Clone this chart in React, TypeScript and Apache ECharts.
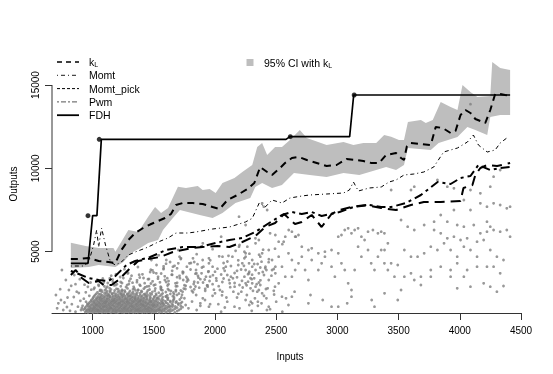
import React, { useEffect, useRef } from "react";
import * as echarts from "echarts";

const xTicks = [1000, 1500, 2000, 2500, 3000, 3500, 4000, 4500];
const yTicks = [5000, 10000, 15000];

const legendNames = ["kL", "Momt", "Momt_pick", "Pwm", "FDH"];

const fdhLine = [[822,4300],[962,4300],[1000,7160],[1035,7160],[1071,11740],[2580,11740],[2612,11900],[3100,11900],[3133,14400],[4411,14400]];
const fdhPoints = [[962,7160],[1054,11740],[2615,11900],[3137,14400]];

const kL = [[822,4560],[887,4560],[968,4620],[1049,4440],[1130,4380],[1186,4320],[1235,5100],[1292,5700],[1348,6120],[1413,6420],[1478,6660],[1535,6840],[1591,7020],[1640,7260],[1681,7800],[1737,7920],[1818,7920],[1899,7860],[1980,7680],[2037,7560],[2102,8100],[2183,8400],[2264,8760],[2321,9120],[2369,10080],[2426,9780],[2466,9600],[2531,10020],[2572,10320],[2628,10620],[2685,10680],[2750,10500],[2831,10320],[2912,10140],[2993,10200],[3074,10560],[3155,10500],[3212,10440],[3277,10320],[3341,10320],[3398,10800],[3479,10920],[3520,10620],[3544,10500],[3568,11340],[3601,11520],[3682,11460],[3763,11400],[3803,12480],[3860,12420],[3925,12120],[3965,12240],[4006,13200],[4046,13500],[4087,13320],[4127,12960],[4208,12720],[4249,13500],[4289,14460],[4330,14460],[4370,14400],[4411,14340]];

const ciUpper = [[822,5540],[943,5340],[1049,5220],[1170,5220],[1186,5000],[1292,6300],[1373,6180],[1454,7100],[1510,7680],[1559,7320],[1616,7620],[1697,8900],[1762,8820],[1859,8940],[1899,8700],[1956,8760],[2005,8520],[2061,9120],[2159,9420],[2223,9780],[2304,10200],[2345,11280],[2385,11520],[2426,10800],[2491,11280],[2547,11280],[2612,11700],[2693,12300],[2750,11820],[2912,11400],[3050,11580],[3131,11400],[3212,11520],[3317,11520],[3382,12000],[3439,11900],[3503,11700],[3544,11700],[3576,12780],[3682,12900],[3722,12720],[3779,12900],[3844,13980],[3925,13680],[3981,13500],[4022,15000],[4087,14580],[4144,14280],[4249,14340],[4265,16380],[4330,16020],[4411,15900]];

const ciLower = [[822,4020],[968,4080],[1049,4200],[1186,4080],[1251,4380],[1316,4920],[1389,5220],[1454,5520],[1535,5700],[1575,6300],[1656,7020],[1713,7500],[1875,7200],[1980,7020],[2061,7320],[2167,7920],[2288,8220],[2329,8880],[2385,9120],[2466,8820],[2547,9000],[2645,9720],[2774,9600],[2912,9480],[3050,9720],[3179,9600],[3317,9900],[3398,10080],[3479,9900],[3544,10200],[3576,11220],[3763,11100],[3827,11520],[3981,11880],[4062,12480],[4127,12300],[4224,12000],[4249,13080],[4330,13200],[4411,13200]];

const momt = [[822,4140],[927,4140],[968,4380],[1008,5400],[1033,6300],[1049,5280],[1073,6420],[1105,5400],[1146,4380],[1186,4200],[1235,4380],[1292,4800],[1348,4980],[1413,5160],[1454,5280],[1535,5580],[1616,5820],[1681,6120],[1778,6120],[1843,6180],[1980,6360],[2118,6480],[2248,6780],[2304,7000],[2361,7920],[2410,7680],[2466,8100],[2547,7920],[2612,8220],[2709,8340],[2774,8400],[2912,8460],[3050,8520],[3098,8700],[3131,9180],[3171,8640],[3260,8820],[3358,8880],[3422,9180],[3479,9300],[3544,9600],[3625,9660],[3706,9780],[3787,10080],[3868,10980],[3981,11220],[4062,11580],[4111,12000],[4152,11400],[4224,10980],[4289,11100],[4330,11520],[4395,11880]];

const pwm = [[822,3840],[887,3660],[968,3420],[1049,3300],[1130,3240],[1186,3540],[1235,3900],[1276,4200],[1348,4440],[1470,4680],[1600,5100],[1737,5280],[1875,5280],[2005,5520],[2118,5700],[2223,5820],[2329,6180],[2442,6720],[2547,7200],[2628,7380],[2709,7260],[2790,7380],[2871,7140],[3017,7380],[3131,7680],[3260,7800],[3358,7680],[3439,7680],[3560,7920],[3682,8400],[3819,9180],[3925,9060],[4006,9420],[4087,9540],[4152,10200],[4249,9900],[4330,10020],[4411,10080]];

const momtPick = [[822,3600],[862,3900],[911,3420],[968,3120],[1049,3240],[1089,3000],[1154,3000],[1211,3300],[1251,3600],[1308,4020],[1373,4440],[1454,4560],[1551,4680],[1656,4980],[1818,5220],[1899,5280],[2021,5340],[2118,5280],[2223,5580],[2329,5940],[2410,6480],[2491,6720],[2564,7260],[2653,6660],[2709,6780],[2790,7200],[2871,6480],[2952,7260],[3017,7500],[3115,7680],[3236,7800],[3358,7620],[3479,7500],[3601,7800],[3706,7980],[3844,7980],[4006,8040],[4030,8820],[4103,9000],[4127,9600],[4168,10020],[4224,10200],[4305,10140],[4411,10320]];

const points = [
700,2400,741,2100,749,3900,781,3300,806,2700,790,1680,720,1900,846,2280,760,1500,830,1850,870,2600,887,2520,860,3050,815,1450,735,2750,880,1700,850,3600,795,2250,710,1600,900,2050,895,3350,770,1950,825,2950,905,1500,860,1400,
912,1620,928,2180,944,2560,957,1870,973,2350,989,2720,934,3020,961,2890,983,3150,918,1750,946,2000,972,1500,
940,1380,962,1350,985,1395,1003,1340,1021,1372,1040,1355,1058,1390,1076,1345,1094,1378,1112,1360,1130,1398,1149,1342,1167,1385,1185,1361,1203,1340,1222,1392,1240,1368,1258,1349,1277,1387,1295,1358,1314,1397,1332,1344,1350,1376,1369,1360,1388,1391,1406,1347,1425,1379,1443,1362,1462,1395,1480,1350,1499,1372,1520,1388,1544,1346,1568,1380,1597,1360,1630,1390,1671,1352,
950,1440,975,1425,996,1455,1013,1430,1031,1450,1049,1420,1067,1445,1085,1428,1103,1458,1121,1432,1139,1448,1158,1422,1176,1452,1194,1436,1212,1460,1231,1426,1249,1444,1268,1430,1286,1456,1304,1424,1323,1450,1341,1434,1359,1458,1378,1428,1397,1446,1415,1422,1434,1454,1452,1438,1471,1426,1489,1450,1509,1432,1531,1458,1556,1428,1582,1447,1612,1424,1645,1452,1690,1435,
925,1510,951,1488,975,1530,998,1495,1017,1522,1036,1480,1055,1512,1073,1535,1091,1490,1110,1518,1128,1500,1146,1540,1165,1484,1183,1526,1201,1505,1220,1488,1238,1532,1257,1497,1275,1520,1293,1482,1312,1514,1330,1538,1349,1493,1367,1525,1386,1502,1404,1486,1423,1530,1441,1508,1460,1491,1478,1528,1497,1504,1518,1485,1541,1522,1566,1499,1592,1530,1622,1488,1660,1515,1705,1500,
935,1580,960,1565,983,1595,1003,1572,1022,1590,1040,1562,1059,1598,1077,1575,1095,1560,1114,1592,1132,1570,1151,1600,1169,1566,1188,1588,1206,1574,1225,1596,1243,1562,1262,1584,1280,1570,1299,1598,1317,1565,1336,1590,1354,1576,1373,1560,1391,1594,1410,1572,1428,1588,1447,1564,1466,1596,1486,1575,1507,1590,1529,1566,1553,1595,1578,1572,1605,1588,1636,1562,1675,1590,1720,1575,
940,1650,968,1690,990,1625,1012,1668,1031,1640,1049,1684,1068,1628,1086,1660,1104,1690,1123,1637,1141,1672,1160,1622,1178,1655,1197,1686,1215,1630,1234,1665,1252,1644,1271,1689,1289,1626,1308,1660,1326,1681,1345,1636,1363,1667,1382,1624,1400,1655,1419,1688,1437,1640,1456,1670,1475,1630,1495,1662,1517,1685,1539,1640,1563,1672,1590,1628,1618,1660,1652,1690,1690,1645,1735,1670,
950,1730,977,1715,1000,1745,1020,1722,1040,1740,1058,1712,1077,1748,1095,1726,1113,1712,1132,1742,1150,1720,1169,1750,1187,1716,1206,1738,1224,1724,1243,1746,1261,1712,1280,1734,1298,1720,1317,1748,1335,1716,1354,1740,1372,1726,1391,1710,1409,1744,1428,1722,1446,1738,1465,1714,1484,1746,1504,1725,1526,1740,1550,1716,1575,1745,1603,1722,1636,1738,1675,1716,1720,1742,
960,1800,985,1780,1007,1830,1027,1790,1046,1815,1064,1772,1083,1840,1101,1805,1120,1778,1138,1826,1157,1795,1175,1770,1194,1835,1212,1808,1231,1783,1249,1822,1268,1790,1286,1838,1305,1775,1323,1812,1342,1796,1360,1830,1379,1780,1397,1818,1416,1800,1434,1773,1453,1836,1472,1806,1492,1784,1513,1825,1536,1795,1561,1832,1588,1778,1620,1812,1655,1790,1700,1825,1760,1800,
968,1880,993,1865,1015,1895,1035,1872,1054,1890,1072,1862,1091,1898,1110,1875,1128,1860,1147,1892,1165,1870,1184,1900,1203,1866,1221,1888,1240,1874,1258,1896,1277,1862,1295,1884,1314,1870,1332,1898,1351,1865,1369,1890,1388,1876,1406,1860,1425,1894,1444,1872,1463,1888,1483,1864,1504,1896,1527,1875,1552,1890,1580,1866,1612,1895,1650,1872,1700,1890,
975,1950,1000,1985,1022,1930,1042,1968,1061,1922,1080,1975,1099,1945,1117,1990,1136,1925,1154,1962,1173,1940,1191,1982,1210,1928,1228,1958,1247,1990,1265,1935,1284,1970,1302,1922,1321,1952,1339,1985,1358,1940,1376,1966,1395,1928,1413,1980,1432,1950,1451,1925,1471,1972,1492,1944,1515,1988,1540,1932,1568,1965,1599,1940,1635,1980,1680,1948,1730,1975,
985,2025,1010,2010,1032,2040,1052,2018,1071,2035,1090,2008,1109,2042,1128,2020,1147,2006,1166,2038,1185,2015,1204,2045,1223,2012,1242,2032,1261,2018,1280,2040,1299,2008,1318,2030,1337,2016,1356,2044,1375,2010,1394,2035,1414,2020,1435,2006,1457,2040,1480,2018,1504,2034,1530,2010,1560,2042,1595,2020,1635,2036,1685,2012,
990,2100,1016,2075,1039,2130,1060,2090,1080,2120,1100,2078,1119,2140,1138,2098,1157,2072,1176,2125,1195,2092,1214,2135,1233,2080,1252,2110,1271,2140,1290,2085,1309,2118,1328,2075,1347,2130,1366,2096,1385,2072,1404,2122,1424,2100,1445,2138,1467,2082,1490,2115,1516,2090,1545,2135,1578,2078,1615,2110,1660,2095,1712,2130,
1000,2175,1027,2160,1051,2190,1073,2168,1094,2185,1115,2158,1136,2192,1157,2170,1178,2156,1199,2188,1220,2165,1241,2195,1262,2162,1283,2182,1304,2168,1325,2190,1347,2158,1369,2180,1392,2166,1415,2194,1440,2160,1467,2185,1497,2170,1530,2192,1568,2162,1612,2185,1665,2170,
1005,2250,1033,2230,1058,2280,1080,2240,1101,2270,1122,2225,1143,2290,1163,2255,1184,2232,1205,2275,1226,2245,1247,2288,1268,2228,1289,2262,1310,2240,1331,2285,1353,2250,1375,2226,1398,2270,1421,2242,1446,2288,1473,2235,1502,2268,1535,2245,1572,2280,1615,2232,1665,2262,1725,2250,
1012,2325,1042,2310,1068,2340,1093,2318,1118,2335,1143,2308,1168,2342,1193,2320,1218,2306,1243,2338,1268,2315,1294,2345,1320,2312,1347,2332,1375,2318,1404,2340,1435,2310,1469,2335,1506,2320,1548,2342,1597,2312,1655,2330,
1020,2400,1052,2440,1080,2380,1107,2420,1133,2395,1158,2450,1183,2372,1208,2415,1233,2440,1258,2388,1283,2425,1308,2376,1334,2445,1361,2405,1389,2380,1418,2435,1449,2398,1483,2445,1520,2390,1562,2425,1610,2380,1665,2440,1730,2410,
1030,2480,1065,2465,1097,2500,1128,2472,1160,2490,1191,2462,1222,2498,1253,2475,1285,2460,1318,2492,1352,2470,1388,2500,1427,2466,1470,2488,1518,2472,1572,2496,1635,2468,1705,2490,
1040,2560,1078,2590,1112,2540,1145,2580,1176,2535,1206,2600,1236,2555,1266,2585,1297,2538,1330,2575,1365,2545,1402,2595,1443,2550,1488,2588,1540,2540,1598,2578,1660,2550,1735,2595,1820,2560,
1060,2650,1100,2680,1140,2640,1180,2670,1220,2635,1262,2665,1305,2645,1350,2678,1398,2640,1450,2670,1508,2650,1570,2680,1640,2645,1720,2670,
1007,1605,1029,1808,1044,1505,1062,2205,1089,1702,1108,1950,1127,2365,1146,1620,1171,2055,1192,1405,1216,1910,1237,2405,1259,1625,1281,1995,1302,2355,1323,1702,1344,2205,1366,1505,1389,2055,1411,1810,1432,2385,1455,1602,1477,2005,1502,1805,1523,2205,1548,1505,1574,1902,1601,2305,1628,1702,1657,2005,1689,2405,1719,1902,1750,2205,1783,1602,1812,2005,1846,2400,1880,1750,1918,2100,1960,1850,
1015,2840,1048,3010,1072,2690,1096,2920,1124,3120,1139,2810,1163,3330,1187,2990,1208,2750,1229,3180,1251,3420,1273,2880,1296,3060,1318,3560,1341,2790,1363,3280,1384,3010,1407,3640,1429,2860,1452,3350,1476,3090,1498,3750,1031,3240,1083,3390,1117,2620,1152,3560,1199,3050,1243,2660,1287,3690,1326,3140,1371,2700,1416,3420,1461,2930,1489,3880,
1512,3020,1534,3380,1557,2780,1579,3950,1601,3180,1624,2690,1646,3620,1669,4150,1691,2930,1713,3410,1736,3800,1758,2760,1781,3290,1803,4320,1826,3060,1848,3700,1871,2840,1893,4050,1916,3330,1938,2980,1961,4480,1983,3590,1522,4200,1589,3520,1633,4380,1677,3100,1722,4600,1766,3480,1811,2650,1857,4250,1902,3150,1947,3820,1991,2720,
2012,3260,2034,4720,2057,2380,2079,3850,2101,4410,2124,2870,2146,3400,2168,5050,2191,2470,2213,3930,2236,4150,2258,2980,2281,4880,2303,3620,2326,2200,2348,4260,2371,3280,2393,5120,2416,2760,2438,4370,2461,3560,2483,2430,2027,1850,2093,2250,2159,1700,2226,2850,2292,2000,2358,3150,2424,1500,2490,2900,
1010,2760,1062,2700,1110,2790,1150,2735,1195,2770,1240,2710,1285,2795,1330,2740,1372,2705,1418,2780,1465,2730,1512,2790,1560,2715,1615,2760,1680,2700,1745,2785,1830,2740,1920,2770,
1050,2950,1120,2900,1175,2980,1230,2920,1282,2995,1335,2890,1390,2960,1444,2915,1500,2985,1556,2900,1612,2970,1680,2925,1750,2990,1840,2910,1935,2975,2030,2930,
1090,3150,1165,3200,1240,3120,1300,3240,1362,3170,1425,3110,1490,3220,1550,3160,1620,3235,1690,3130,1770,3210,1860,3150,1955,3240,2060,3180,2160,3120,
1140,3400,1225,3480,1310,3380,1385,3450,1460,3360,1535,3490,1610,3410,1690,3470,1775,3370,1865,3440,1960,3500,2070,3390,2180,3460,2290,3410,
1190,3650,1290,3740,1380,3620,1470,3780,1560,3690,1650,3610,1740,3760,1840,3680,1945,3790,2050,3630,2160,3720,2270,3650,2390,3780,
1260,3950,1370,4080,1475,3920,1580,4120,1690,4000,1800,3930,1905,4100,2020,3980,2130,4140,2250,3900,2370,4050,2480,3960,
1350,4300,1480,4500,1600,4280,1720,4560,1830,4380,1950,4600,2070,4320,2190,4480,2320,4260,2440,4550,
1540,4780,1700,5100,1850,4850,1980,5150,2110,4750,2240,5000,2360,4820,2490,5180,2600,4900,
1900,5500,2050,5900,2200,5400,2330,5800,2450,6100,2550,5450,2660,5900,2196,7100,2250,6600,
1560,2850,1620,3050,1680,2620,1740,3300,1800,2880,1860,3550,1920,2650,1980,3050,2040,2700,2100,3600,2160,2900,2220,3250,2280,3800,2340,3050,1590,3300,1650,3850,1710,3550,1770,4100,1830,3200,1890,3700,1950,4300,2010,3400,2070,4000,2130,3500,2190,4200,2250,3100,2310,2650,2370,4700,2420,3900,1520,3700,1580,4000,1700,4300,1760,2950,1820,4600,1880,3350,1940,2900,2000,3800,2060,2600,2120,3100,2180,3850,2240,4600,2300,3350,
1602,4500,1656,4100,1710,4700,1737,3700,1791,4300,1845,3900,1899,4500,1926,3500,1980,4100,2061,4700,2088,4100,2115,3300,2142,4700,2196,5300,2223,4300,2250,4900,2277,3700,2304,4500,2331,5500,2358,5700,2385,4900,2412,4100,2439,5100,2466,4500,2493,3700,2520,4700,2547,4100,
1850,1500,1900,2200,1950,1700,2000,2500,2050,1400,2100,2000,2150,2600,2200,1600,2250,2100,2300,1450,2350,1750,2400,2350,2450,1550,2500,2000,2550,1400,2600,1800,2650,2600,1880,1900,1980,2350,2080,1650,2180,2250,2380,1900,2480,2650,2580,2200,2780,2400,2880,2100,3080,1900,3280,2100,
2385,7900,2399,7700,2426,7500,2493,6000,2520,5600,2574,5900,2561,5600,2602,6300,2628,6200,2655,5900,2682,6000,2709,5300,2763,5100,2790,5200,2844,4900,2898,5000,2952,5100,3007,5900,3033,6000,3060,6300,3088,6400,3115,6100,3141,6300,3169,6400,3196,5900,3222,5700,3250,6200,3290,6300,3331,6100,3358,6200,3384,6100,
2264,5300,2250,4700,2278,4300,2304,4100,2331,3900,2358,3700,2304,3100,2331,2900,2358,2700,2385,2500,2439,3300,2466,3900,2493,4100,2520,3100,2547,2300,2574,3500,2628,4500,2628,3500,2655,3900,2682,4300,2709,4700,2736,3900,2763,3300,2790,4500,2844,3900,2871,4300,2898,4700,2952,4100,2979,3500,3007,4900,3033,4300,3060,3900,3088,3100,3115,2700,3141,3900,3169,5300,3196,4700,3250,5100,3276,4300,3303,3900,3331,4700,3358,5100,3384,4300,3412,3900,
2304,1900,2439,1700,2628,2300,2763,1900,2952,1700,3007,1700,3115,2300,3303,1700,
2240,3500,2270,3200,2290,2800,2320,3400,2345,2600,2370,3000,2400,3600,2420,2200,2260,2400,2280,1800,2350,2000,2380,4400,2410,4000,2430,2800,2200,3000,2215,2600,
3439,8700,3601,8700,3628,8900,3817,9300,3898,8900,3952,8800,4087,8700,4168,8500,4249,8900,4276,9500,4330,9900,4168,7900,4222,7700,4276,7900,4330,7800,4384,7600,4411,7700,4033,8100,4087,7500,3952,7500,3844,7200,3790,6800,3898,6800,3979,6600,4033,6500,4114,6600,4168,6100,4222,6800,4249,6500,4222,6200,4276,6300,4330,6200,4384,6300,4411,5900,
3520,6900,3574,6500,3628,6300,3709,6600,3790,6300,3844,6100,3898,5800,3952,5900,4006,5700,4060,5800,4141,5600,4195,5700,3547,5100,3601,4700,3655,4700,3709,4900,3763,5300,3817,5100,3871,5500,3925,5100,3979,4700,4033,5300,4087,5100,4141,4700,4249,5100,4303,4700,4357,4500,
3412,5500,3385,5100,3439,4300,3493,4200,3547,3500,3601,3700,3628,3300,3682,3500,3763,3900,3763,3500,3844,4100,3925,3900,3979,4300,4060,3900,4141,4100,4222,4100,4276,4100,4330,3700,3466,3500,3520,2700,3493,2100,3682,3000,3925,3500,4033,3500,4087,2900,4195,3100,4249,2900,4303,2600,4357,2940,3979,2800,3385,2500,
4087,13850
];

const scatterData: number[][] = [];
for (let i = 0; i + 1 < points.length; i += 2) scatterData.push([points[i], points[i + 1]]);

const FONT = '"Liberation Sans", Arial, Helvetica, sans-serif';

export default function App() {
  const ref = useRef<HTMLDivElement>(null);
  useEffect(() => {
    if (!ref.current) return;
    const chart = echarts.init(ref.current, undefined, { renderer: "svg" });
    const lineSeries = (name: string, data: number[][], width: number, dash: any) => ({
      name,
      type: "line",
      data,
      symbol: "none",
      silent: true,
      z: 4,
      lineStyle: { color: "#000", width, type: dash },
    });
    const legendY = [62, 75.3, 88.6, 101.9, 115.2];
    const legendDash: any[] = [[5, 4], [1, 3, 4, 3], [3, 2], [2, 2, 5, 2], null];
    const legendWidth = [1.3, 0.9, 1, 1, 1.8];
    const graphics: any[] = [];
    legendNames.forEach((n, i) => {
      graphics.push({
        type: "line",
        shape: { x1: 57, y1: legendY[i], x2: 79, y2: legendY[i] },
        style: { stroke: i === 3 ? "#555" : "#000", lineWidth: legendWidth[i], lineDash: legendDash[i] || undefined },
      });
      graphics.push({
        type: "text",
        x: 89,
        y: legendY[i],
        style: {
          text: n === "kL" ? "{a|k}{b|L}" : n,
          font: `10.5px ${FONT}`,
          fill: "#000",
          verticalAlign: "middle",
          rich: {
            a: { fontSize: 10.5, fontFamily: FONT, fill: "#000" },
            b: { fontSize: 7, fontFamily: FONT, fill: "#000", padding: [5, 0, 0, 0] },
          },
        },
      });
    });
    graphics.push({ type: "rect", shape: { x: 246.5, y: 59, width: 7, height: 7 }, style: { fill: "#BEBEBE" } });
    graphics.push({
      type: "text",
      x: 264,
      y: 62.5,
      style: {
        text: "{a|95% CI with k}{b|L}",
        verticalAlign: "middle",
        rich: {
          a: { fontSize: 10.5, fontFamily: FONT, fill: "#000" },
          b: { fontSize: 7, fontFamily: FONT, fill: "#000", padding: [5, 0, 0, 0] },
        },
      },
    });

    chart.setOption({
      animation: false,
      grid: { left: 48, right: 32, top: 55, bottom: 61 },
      xAxis: {
        type: "value",
        min: 668,
        max: 4500,
        axisLine: { show: true, onZero: false, lineStyle: { color: "#333", width: 1 } },
        axisTick: { show: true, length: 7, customValues: xTicks, lineStyle: { color: "#333" } },
        axisLabel: { customValues: xTicks, formatter: (v: number) => String(v), margin: 12, fontSize: 10, color: "#000", fontFamily: FONT },
        splitLine: { show: false },
        name: "Inputs",
        nameLocation: "middle",
        nameGap: 38,
        nameTextStyle: { fontSize: 10, color: "#000", fontFamily: FONT, padding: [0, 0, 0, 7] },
      },
      yAxis: {
        type: "value",
        min: 1320,
        max: 16800,
        axisLine: { show: false },
        axisTick: { show: true, length: 7, customValues: yTicks, lineStyle: { color: "#333" } },
        axisLabel: { customValues: yTicks, formatter: (v: number) => String(v), rotate: 90, margin: 12, fontSize: 10, color: "#000", fontFamily: FONT },
        splitLine: { show: false },
        name: "Outputs",
        nameLocation: "middle",
        nameGap: 34,
        nameRotate: 90,
        nameTextStyle: { fontSize: 10, color: "#000", fontFamily: FONT },
      },
      graphic: graphics,
      series: [
        {
          name: "95% CI with kL",
          type: "custom",
          silent: true,
          z: 1,
          data: [ciUpper[0]],
          renderItem: (params: any, api: any) => {
            const pts = ciUpper.map((p) => api.coord(p)).concat(ciLower.slice().reverse().map((p) => api.coord(p)));
            return { type: "polygon", shape: { points: pts }, style: { fill: "#BEBEBE", stroke: "none" } };
          },
        },
        {
          name: "data",
          type: "scatter",
          silent: true,
          z: 2,
          data: scatterData,
          symbol: "circle",
          symbolSize: 2.8,
          itemStyle: { color: "#808080" },
        },
        lineSeries("kL", kL, 2, [7, 5]),
        lineSeries("Momt", momt, 1, [1, 3, 4, 3]),
        lineSeries("Momt_pick", momtPick, 2, [10, 6]),
        lineSeries("Pwm", pwm, 2, [3, 4, 9, 4]),
        lineSeries("FDH", fdhLine, 1.7, "solid"),
        {
          name: "FDH points",
          type: "scatter",
          silent: true,
          z: 5,
          data: fdhPoints,
          symbolSize: 5,
          itemStyle: { color: "#000" },
        },
        {
          name: "yAxisLine",
          type: "line",
          silent: true,
          clip: false,
          symbol: "none",
          data: [[668, yTicks[0]], [668, yTicks[yTicks.length - 1]]],
          lineStyle: { color: "#333", width: 1 },
          z: 3,
        },
      ],
    });
    return () => chart.dispose();
  }, []);
  return <div ref={ref} style={{ position: "fixed", left: 0, top: 0, width: 553, height: 374 }} />;
}
